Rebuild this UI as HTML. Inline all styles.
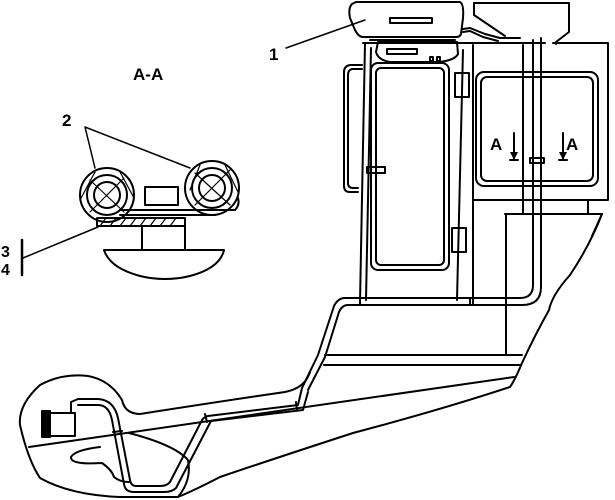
<!DOCTYPE html>
<html><head><style>
html,body{margin:0;padding:0;background:#fff;}
svg{display:block;}
text{font-family:"Liberation Sans",sans-serif;font-weight:bold;fill:#000;}
</style></head><body>
<svg width="615" height="500" viewBox="0 0 615 500" xmlns="http://www.w3.org/2000/svg">
<g fill="none" stroke="#000" stroke-width="2" stroke-linejoin="round" stroke-linecap="round">
<!-- roof unit -->
<path d="M356,2 L460,2 Q464,4 463,18 L461,34 Q460,37 456,37 L362,37 Q358,36 355,30 L350,18 Q348,8 352,4 Z"/>
<rect x="390" y="18" width="42" height="5"/>
<path d="M365,37 L455,37 M370,40 L455,40"/>
<path d="M378,42 L457,42 L458,54 Q455,60 440,62 L390,62 Q378,60 376,52 Z"/>
<rect x="387" y="49" width="30" height="5"/>
<rect x="430" y="57" width="3" height="4"/><rect x="437" y="57" width="3" height="4"/>
<!-- right top block -->
<path d="M474,3 L569,3 L569,32 L556,42 L556,44"/>
<path d="M474,3 L474,15 L505,36"/>
<path d="M463,29 L470,28 L485,34 L500,38 L520,38"/>
<path d="M463,32 L470,31 L483,37 L498,41"/>
<!-- cab -->
<path d="M363,43 L545,43"/>
<path d="M365,43 L360,302"/>
<path d="M371,48 L366,300"/>
<path d="M553,43 L608,43 L608,200 L553,200"/>
<path d="M473,45 L473,305"/>
<path d="M523,45 L523,214"/>
<path d="M473,200 L553,200"/>
<path d="M588,200 L588,214"/>
<path d="M463,50 L457,300"/>
<!-- handle -->
<path d="M362,65 L350,65 Q344,66 344,72 L344,186 Q344,192 350,192 L358,192"/>
<path d="M362,69 L352,69 Q348,70 348,75 L348,183 Q348,188 353,188 L358,188"/>
<rect x="367" y="167" width="18" height="6"/>
<!-- door windows -->
<rect x="371" y="63" width="78" height="207" rx="7"/>
<rect x="376" y="68" width="68" height="197" rx="5"/>
<rect x="455" y="73" width="14" height="24"/>
<rect x="452" y="228" width="14" height="24"/>
<!-- right window -->
<rect x="476" y="72" width="122" height="114" rx="8"/>
<rect x="481" y="77" width="112" height="104" rx="6"/>
<!-- pipe vertical -->
<path d="M533,40 L533,285 Q533,298 520,298 L345,298 Q338,298 334,306 L318,355 L302,388"/>
<path d="M541,38 L541,287 Q541,305 522,305 L348,305 Q342,305 339,312 L325,357 L308,390"/>
<rect x="530" y="158" width="14" height="5"/>
<path d="M360,298 L360,305 M470,298 L470,305"/>
<!-- lower body -->
<path d="M505,214 L602,214 L592,236"/>
<path d="M602,214 Q590,245 570,275 Q552,295 549,310 Q535,335 522,363 Q515,380 510,387 Q440,410 353,433 Q270,460 220,477 Q195,490 178,497"/>
<path d="M506,214 L506,355"/>
<path d="M325,355 L522,355 M324,365 L520,365"/>
<path d="M29,447 L514,377"/>
<!-- tank outline -->
<path d="M310,372 Q305,388 285,392 Q230,400 140,414 Q125,414 122,400 Q110,380 88,376 Q62,373 40,385 Q18,405 20,425 Q28,460 40,478 Q70,495 120,497 L178,497"/>
<path d="M129,433 Q175,445 188,460 Q192,480 178,497"/>
<path d="M100,447 Q75,450 71,457 Q70,465 102,463 Q112,470 114,477 Q120,482 129,482"/>
<!-- lower pipe -->
<path d="M302,388 L298,405 L208,416 Q203,417 201,422 L170,482 Q167,486 160,486 L136,486 Q131,486 130,480 L118,418 Q114,400 98,399 L78,399"/>
<path d="M308,392 L303,410 L211,421 L176,488 Q172,492 164,492 L134,492 Q125,492 124,484 L112,420 Q109,405 98,405 L78,405"/>
<path d="M296,402 L297,410 M205,414 L207,422 M113,432 L122,431"/>
<!-- pump -->
<rect x="43" y="413" width="32" height="23"/>
<rect x="42" y="411" width="8" height="26" fill="#000"/>
<path d="M71,413 L71,402 L78,399"/>
<!-- A-A section -->
<circle cx="107" cy="195" r="27"/>
<circle cx="107" cy="195" r="20"/>
<circle cx="107" cy="195" r="13"/>
<circle cx="212" cy="188" r="27"/>
<circle cx="212" cy="188" r="20"/>
<circle cx="212" cy="188" r="13"/>
<g stroke-width="1.2">
<path d="M90,180 L124,212 M124,178 L90,212 M95,172 L80,200 M120,172 L134,198 M195,173 L230,205 M230,170 L195,205 M200,165 L190,190 M225,165 L238,192"/>
</g>
<path d="M97,218 L185,218 L185,226 L97,226 Z"/>
<path d="M100,226 L106,218 M110,226 L116,218 M120,226 L126,218 M130,226 L136,218 M140,226 L146,218 M150,226 L156,218 M160,226 L166,218 M170,226 L176,218" stroke-width="1.2"/>
<path d="M120,210 L235,210 Q240,205 238,198 M120,215 L215,215"/>
<rect x="145" y="187" width="33" height="18"/>
<path d="M142,226 L142,250 M185,226 L185,250"/>
<path d="M104,250 L224,250 Q220,268 190,276 Q165,282 140,276 Q110,268 104,250 Z"/>
<!-- leaders -->
<path d="M85,127 L95,168 M85,127 L190,168" stroke-width="1.5"/>
<path d="M23,258 L98,227" stroke-width="1.5"/>
<path d="M22,240 L22,275" stroke-width="2.5"/>
<path d="M286,48 L365,20" stroke-width="1.5"/>
<!-- A arrows -->
<path d="M514,133 L514,160 M510,160 L518,160 M563,133 L563,160 M559,160 L567,160"/>
</g>
<path d="M510,152 L514,160 L518,152 Z M559,152 L563,160 L567,152 Z" fill="#000"/>
<text x="133" y="80" font-size="17">A-A</text>
<text x="62" y="126" font-size="17">2</text>
<text x="269" y="60" font-size="17">1</text>
<text x="1" y="257" font-size="16">3</text>
<text x="1" y="275" font-size="16">4</text>
<text x="490" y="150" font-size="17">A</text>
<text x="566" y="150" font-size="17">A</text>
</svg>
</body></html>
